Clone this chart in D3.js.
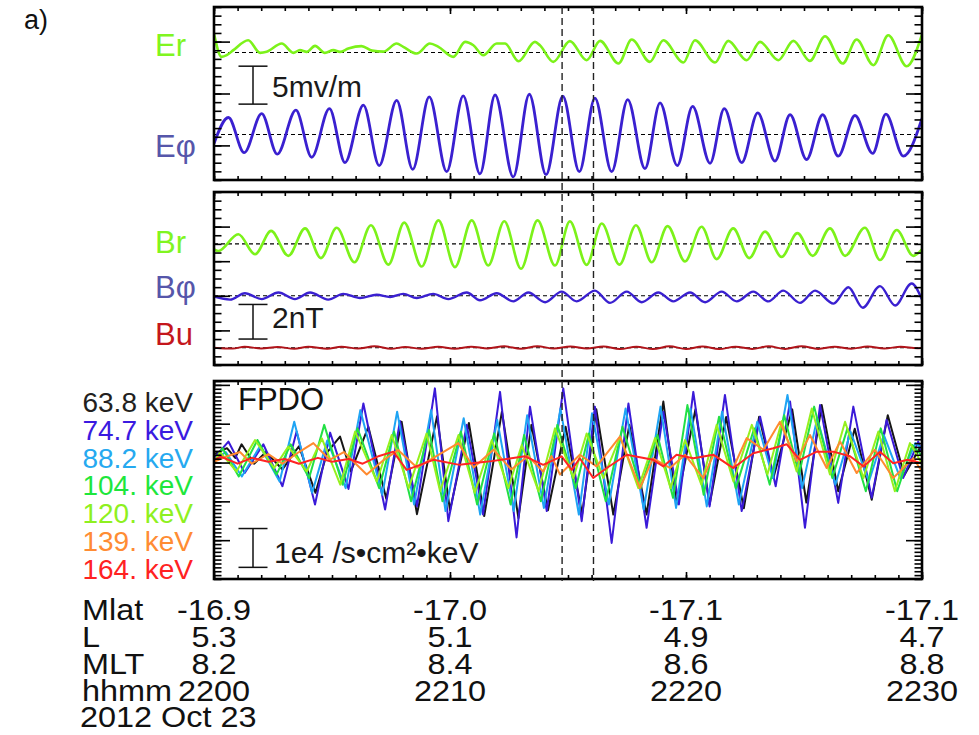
<!DOCTYPE html>
<html>
<head>
<meta charset="utf-8">
<script src="https://cdn.jsdelivr.net/npm/d3@7"></script>
<style>
  body { margin: 0; background: #fff; }
  svg text { font-family: "Liberation Sans", Arial, Helvetica, sans-serif; }
</style>
</head>
<body>
<svg id="chart" width="979" height="735"></svg>
<script>
// ---------- time axis (minutes after 22:00 UT) ----------
const timeDomain = [0, 30];
const timeMajors = [0, 10, 20, 30];
const hhmmLabels = ["2200", "2210", "2220", "2230"];
const mlatLabels = ["-16.9", "-17.0", "-17.1", "-17.1"];
const lLabels = ["5.3", "5.1", "4.9", "4.7"];
const mltLabels = ["8.2", "8.4", "8.6", "8.8"];
const markerTimes = [14.75, 16.08];

// ---------- electric field, mV/m (time, deviation from baseline) ----------
const erBase = 16.8, ephiBase = 6.0;
const erData = [[0,2.5],[0.32,-0.57],[0.54,-0.35],[0.82,0.31],[1.45,1.62],[1.95,-0.04],[2.23,0.09],[2.87,1.18],[3.36,-0.04],[3.64,0.31],[3.93,0.09],[4.28,0.88],[4.7,-0.04],[5.06,0.31],[5.34,0.09],[5.69,0.53],[6.25,0.85],[6.7,0.25],[7.18,0.12],[7.74,1.18],[8.02,0.75],[8.59,-0.13],[9.15,1.18],[9.51,0.75],[10.14,-0.57],[10.64,1.4],[10.99,0.96],[11.41,-0.35],[11.98,1.18],[12.33,1.18],[12.9,-1.14],[13.6,1.4],[13.81,0.96],[14.38,-1.23],[15.08,1.5],[15.79,-1.01],[16.36,1.54],[17.14,-1.45],[17.7,1.71],[18.47,-1.23],[19.04,1.62],[19.89,-1.32],[20.38,1.62],[21.23,-1.32],[21.79,1.54],[22.57,-1.01],[23.14,1.4],[23.91,-1.01],[24.55,1.54],[25.25,-1.1],[25.89,2.15],[26.64,-1.45],[27.23,1.71],[27.94,-1.67],[28.57,2.28],[29.35,-1.8],[30,2.4]];
const ephiData = [[0,-1.18],[0.61,2.24],[1.28,-2.4],[2.02,2.76],[2.68,-2.6],[3.47,3.2],[4.14,-3.0],[4.89,3.4],[5.55,-3.7],[6.33,3.86],[7.0,-4.1],[7.74,4.5],[8.42,-4.6],[9.12,4.96],[9.86,-4.9],[10.56,5.1],[11.27,-5.2],[11.91,5.2],[12.68,-5.6],[13.36,5.3],[14.07,-5.3],[14.78,5.04],[15.48,-4.9],[16.14,4.8],[16.85,-4.9],[17.53,4.6],[18.26,-4.5],[18.9,4.16],[19.63,-4.1],[20.28,3.7],[21.02,-3.8],[21.62,3.4],[22.36,-3.7],[23.04,2.84],[23.77,-3.5],[24.41,2.6],[25.11,-3.3],[25.79,2.6],[26.45,-2.86],[27.16,2.5],[27.91,-2.5],[28.47,2.67],[29.21,-2.86],[30,2.1]];

// ---------- magnetic field, nT ----------
const brBase = 7, bphiBase = 4, buBase = 1;
const brData = [[0,-0.32],[0.18,-0.41],[1.03,0.56],[1.74,-0.6],[2.42,0.75],[3.15,-0.69],[3.86,0.9],[4.53,-0.82],[5.2,0.93],[5.95,-1.06],[6.65,1.08],[7.39,-1.2],[8.06,1.23],[8.8,-1.31],[9.51,1.36],[10.21,-1.34],[10.92,1.36],[11.62,-1.25],[12.3,1.31],[13.01,-1.44],[13.71,1.36],[14.45,-1.25],[15.08,1.3],[15.79,-1.21],[16.43,1.18],[17.18,-1.2],[17.88,1.08],[18.55,-1.06],[19.22,1.03],[19.96,-1.01],[20.66,0.99],[21.3,-0.88],[22.0,0.9],[22.68,-0.82],[23.35,0.71],[24.05,-0.75],[24.72,0.62],[25.37,-0.69],[26.1,0.9],[26.74,-0.69],[27.58,0.93],[28.22,-0.93],[28.93,0.8],[29.63,-0.69],[30,-0.32]];
const bphiData = [[0,-0.04],[0.68,-0.22],[1.31,0.15],[2.02,-0.19],[2.73,0.19],[3.43,-0.19],[4.07,0.19],[4.84,-0.22],[5.48,0.11],[6.19,-0.13],[6.89,0.06],[7.46,-0.07],[8.02,0.11],[8.59,-0.13],[9.29,0.11],[9.93,-0.19],[10.71,0.19],[11.27,-0.26],[11.98,0.15],[12.68,-0.32],[13.32,0.19],[14.03,-0.37],[14.73,0.24],[15.37,-0.32],[16.14,0.3],[16.78,-0.41],[17.49,0.24],[18.12,-0.37],[18.83,0.19],[19.46,-0.32],[20.17,0.19],[20.81,-0.37],[21.51,0.24],[22.15,-0.32],[22.85,0.24],[23.49,-0.32],[24.12,0.3],[24.83,-0.41],[25.47,0.3],[26.25,-0.45],[26.88,0.49],[27.49,-0.69],[28.22,0.56],[28.86,-0.56],[29.56,0.71],[30,-0.22]];
const buData = [[0,0.0],[0.8,-0.05],[1.3,0.06],[2.0,-0.05],[2.7,0.04],[3.4,-0.06],[4.0,0.05],[4.8,-0.06],[5.4,0.06],[6.1,-0.05],[6.8,0.08],[7.5,-0.06],[8.1,0.04],[8.8,-0.06],[9.5,0.05],[10.2,-0.06],[10.9,0.06],[11.6,-0.04],[12.3,0.08],[13.0,-0.06],[13.7,0.09],[14.4,-0.05],[15.1,0.07],[15.8,-0.05],[16.5,0.07],[17.2,-0.08],[17.9,0.06],[18.6,-0.08],[19.3,0.08],[20.0,-0.07],[20.7,0.07],[21.4,-0.08],[22.1,0.06],[22.8,-0.07],[23.5,0.08],[24.2,-0.07],[24.9,0.09],[25.6,-0.07],[26.3,0.06],[27.0,-0.06],[27.7,0.07],[28.4,-0.05],[29.1,0.06],[29.8,-0.03],[30,0.0]];

// ---------- FPDO proton flux, units of 1e4 /s cm2 keV ----------
const fluxBase = 3.07;
const energyLabels = ["63.8 keV", "74.7 keV", "88.2 keV", "104. keV", "120. keV", "139. keV", "164. keV"];
const flux638 = [[0,0.15],[0.55,0.3],[0.9,0.05],[1.17,0.4],[1.7,-0.1],[2.2,0.2],[2.9,-0.25],[3.3,0.1],[3.6,0.35],[4.3,-0.85],[4.8,0.2],[5.34,0.6],[5.8,-0.3],[6.54,0.85],[7.3,-1.0],[7.95,0.98],[8.6,-1.4],[9.45,1.12],[10.0,-1.3],[10.8,0.95],[11.45,-1.45],[12.2,1.24],[12.9,-1.5],[13.45,0.9],[14.15,-1.3],[14.9,0.85],[15.6,-1.4],[16.2,1.3],[16.92,-1.41],[17.6,0.9],[18.33,-1.41],[19.04,1.5],[19.6,-1.15],[20.4,1.3],[21.0,-1.15],[21.7,1.1],[22.45,-1.25],[23.1,1.11],[23.7,-0.47],[24.5,1.3],[25.1,-1.1],[25.75,1.41],[26.45,-0.81],[27.15,0.8],[27.87,-1.03],[28.55,1.15],[29.25,-0.4],[29.9,0.3],[30,0.2]];
const flux747 = [[0,0.04],[0.61,0.47],[1.3,-0.34],[2.09,0.4],[2.9,-0.68],[3.5,0.73],[4.28,-1.15],[4.92,0.7],[5.7,-0.75],[6.33,1.45],[7.25,-1.28],[7.88,1.0],[8.6,-1.2],[9.36,1.84],[9.93,-1.58],[10.71,0.9],[11.4,-1.41],[12.12,1.75],[12.82,-2.0],[13.39,1.37],[14.1,-1.32],[14.8,1.84],[15.58,-1.58],[16.14,1.37],[16.85,-2.14],[17.56,1.45],[18.33,-1.75],[19.04,1.24],[19.7,-1.15],[20.31,1.75],[21.0,-1.2],[21.65,1.67],[22.36,-1.32],[23.14,1.11],[23.8,-0.68],[24.41,1.5],[25.04,-1.75],[25.68,1.41],[26.45,-1.11],[27.09,1.37],[27.87,-0.98],[28.5,1.03],[29.2,-0.47],[29.84,0.47],[30,0.2]];
const flux882 = [[0,0.0],[0.5,0.2],[1.18,-0.43],[1.95,0.35],[2.78,-0.56],[3.4,0.98],[4.16,-0.85],[4.8,0.5],[5.58,-0.73],[6.2,1.28],[7.13,-0.9],[7.76,1.24],[8.48,-1.15],[9.2,1.28],[9.81,-1.32],[10.58,1.07],[11.28,-1.41],[12.0,1.03],[12.7,-1.32],[13.27,1.15],[13.98,-1.24],[14.68,1.32],[15.46,-1.41],[16.02,1.2],[16.73,-1.15],[17.44,1.32],[18.21,-1.28],[18.92,1.37],[19.58,-1.24],[20.19,1.32],[20.88,-1.2],[21.53,1.24],[22.24,-1.15],[23.02,0.98],[23.68,-0.47],[24.3,1.67],[24.92,-0.73],[25.56,1.07],[26.33,-0.64],[26.97,0.73],[27.75,-0.56],[28.38,0.64],[29.08,-0.47],[29.72,0.43],[30,0.3]];
const flux104 = [[0,-0.1],[0.36,0.3],[1.05,-0.43],[1.84,0.51],[2.65,-0.38],[3.25,0.4],[4.03,-0.47],[4.67,0.9],[5.45,-0.64],[6.08,0.81],[7.0,-0.73],[7.63,0.73],[8.35,-1.07],[9.11,0.77],[9.68,-1.07],[10.46,0.73],[11.15,-1.15],[11.87,0.68],[12.57,-1.15],[13.14,0.64],[13.85,-1.07],[14.55,0.9],[15.33,-0.73],[15.89,0.68],[16.6,-1.07],[17.31,0.85],[18.08,-0.73],[18.79,0.64],[19.45,-0.98],[20.06,1.41],[20.75,-0.9],[21.4,1.11],[22.11,-0.73],[22.89,0.81],[23.55,-0.64],[24.16,1.15],[24.79,-0.38],[25.43,1.37],[26.2,-0.47],[26.84,0.81],[27.62,-0.81],[28.25,0.81],[28.95,-0.81],[29.59,0.38],[30,0.1]];
const flux120 = [[0,-0.05],[0.26,0.2],[0.95,-0.3],[1.74,0.51],[2.55,-0.21],[3.15,0.34],[3.93,-0.3],[4.57,0.55],[5.35,-0.64],[5.98,0.73],[6.9,-0.56],[7.53,0.64],[8.25,-0.73],[9.01,0.68],[9.58,-0.81],[10.36,0.64],[11.05,-0.85],[11.77,0.51],[12.47,-0.73],[13.04,0.38],[13.75,-0.81],[14.45,0.81],[15.23,-0.47],[15.79,0.68],[16.5,-0.47],[17.21,0.6],[17.98,-0.73],[18.69,0.56],[19.35,-0.73],[19.96,0.51],[20.65,-0.64],[21.3,0.9],[22.01,-0.56],[22.79,0.9],[23.45,-0.38],[24.06,1.0],[24.69,-0.3],[25.33,1.32],[26.1,-0.38],[26.74,0.98],[27.52,-0.47],[28.15,0.73],[28.85,-0.81],[29.49,0.43],[30,-0.1]];
const flux139 = [[0,-0.05],[0.6,0.1],[1.1,0.2],[1.6,-0.1],[2.3,0.15],[2.9,-0.1],[3.6,0.2],[4.21,0.43],[4.9,0.0],[5.5,0.2],[6.47,-0.38],[7.2,0.0],[7.8,0.25],[8.6,-0.2],[9.3,0.05],[10.35,0.43],[11.0,-0.2],[11.84,0.26],[12.6,-0.25],[13.3,0.1],[13.95,-0.3],[14.3,0.1],[14.66,-0.38],[15.5,0.13],[16.21,-0.17],[17.2,0.6],[18.05,-0.73],[18.6,0.04],[19.32,-0.21],[19.96,0.13],[20.73,-0.47],[21.16,0.13],[22.0,-0.21],[22.57,0.56],[23.28,0.26],[23.98,0.98],[24.69,-0.04],[25.25,0.64],[25.96,-0.21],[26.53,0.47],[27.23,-0.34],[28.0,0.26],[28.78,-0.47],[29.63,0.04],[30,-0.3]];
const flux164 = [[0,0.0],[0.3,0.08],[1.0,-0.1],[1.6,0.05],[2.3,-0.05],[3.0,0.02],[3.6,-0.1],[4.4,0.05],[5.0,-0.05],[5.7,0.02],[6.3,-0.1],[7.0,0.1],[7.6,0.21],[8.16,-0.26],[9.3,0.0],[10.4,-0.13],[11.7,-0.04],[13.18,0.09],[13.95,-0.13],[14.73,0.09],[15.16,-0.26],[15.5,0.04],[16.07,-0.47],[16.64,-0.21],[17.49,0.13],[18.6,0.0],[19.04,-0.17],[19.6,0.13],[20.31,0.04],[21.16,0.13],[22.0,-0.21],[22.85,0.17],[23.7,0.3],[24.27,0.4],[24.83,0.0],[25.54,0.21],[26.24,0.21],[26.95,0.09],[27.52,-0.17],[28.22,0.21],[28.78,-0.09],[29.4,0.0],[30,-0.09]];
const fluxSeries = [flux638, flux747, flux882, flux104, flux120, flux139, flux164];
const fluxColors = ["#161616", "#3a1ad8", "#1ea4f4", "#22e044", "#96f01e", "#ff8a30", "#ff2424"];
const legendColors = ["#231f20", "#3a1ae0", "#26a9f0", "#1ee63c", "#8ef020", "#ff8c33", "#ff2222"];

// ---------- layout ----------
const svg = d3.select("#chart");
const X0 = 214, X1 = 922;
const x = d3.scaleLinear().domain(timeDomain).range([X0, X1]);

const panels = [
  { top: 7, bottom: 180 },
  { top: 192, bottom: 365 },
  { top: 381, bottom: 579 }
];
const y1 = d3.scaleLinear().domain([0, 22.8]).range([panels[0].bottom, panels[0].top]);
const y1ticks = d3.scaleLinear().domain([0, 20]).range([panels[0].bottom, panels[0].top]);
const y2 = d3.scaleLinear().domain([0, 10]).range([panels[1].bottom, panels[1].top]);
const y3 = d3.scaleLinear().domain([0, 5.1]).range([panels[2].bottom, panels[2].top]);

const defs = svg.append("defs");
panels.forEach((p, i) => {
  defs.append("clipPath").attr("id", "clip" + i)
    .append("rect").attr("x", X0).attr("y", p.top).attr("width", X1 - X0).attr("height", p.bottom - p.top);
});

function clean(g) { g.select(".domain").remove(); g.selectAll("text").remove(); }

function drawAxes(p, yScale, minorVals, majorVals) {
  const g = svg.append("g");
  const minorLen = 7.5, majorLen = 16;
  g.append("g").attr("transform", `translate(${X0},0)`)
    .call(d3.axisRight(yScale).tickValues(minorVals).tickSize(minorLen)).call(clean);
  g.append("g").attr("transform", `translate(${X0},0)`)
    .call(d3.axisRight(yScale).tickValues(majorVals).tickSize(majorLen)).call(clean);
  g.append("g").attr("transform", `translate(${X1},0)`)
    .call(d3.axisLeft(yScale).tickValues(minorVals).tickSize(minorLen)).call(clean);
  g.append("g").attr("transform", `translate(${X1},0)`)
    .call(d3.axisLeft(yScale).tickValues(majorVals).tickSize(majorLen)).call(clean);
  const minutes = d3.range(0, 30.001, 1);
  g.append("g").attr("transform", `translate(0,${p.bottom})`)
    .call(d3.axisTop(x).tickValues(minutes).tickSize(4)).call(clean);
  g.append("g").attr("transform", `translate(0,${p.bottom})`)
    .call(d3.axisTop(x).tickValues(timeMajors).tickSize(7)).call(clean);
  g.append("g").attr("transform", `translate(0,${p.top})`)
    .call(d3.axisBottom(x).tickValues(minutes).tickSize(4)).call(clean);
  g.append("g").attr("transform", `translate(0,${p.top})`)
    .call(d3.axisBottom(x).tickValues(timeMajors).tickSize(7)).call(clean);
  g.selectAll(".tick line").attr("stroke", "#000").attr("stroke-width", 1.6);
  g.append("rect").attr("x", X0).attr("y", p.top).attr("width", X1 - X0).attr("height", p.bottom - p.top)
    .attr("fill", "none").attr("stroke", "#000").attr("stroke-width", 2.6);
}

function baseline(yScale, v) {
  svg.append("line").attr("x1", x(timeDomain[0])).attr("x2", x(timeDomain[1]))
    .attr("y1", yScale(v)).attr("y2", yScale(v))
    .attr("stroke", "#000").attr("stroke-width", 1.1).attr("stroke-dasharray", "4,3");
}

function trace(clipId, data, yScale, base, color, width, curve) {
  svg.append("path").datum(data)
    .attr("clip-path", `url(#${clipId})`)
    .attr("fill", "none").attr("stroke", color).attr("stroke-width", width)
    .attr("stroke-linejoin", "round").attr("stroke-linecap", "round")
    .attr("d", d3.line().x(d => x(d[0])).y(d => yScale(base + d[1])).curve(curve));
}

function scaleBar(yScale, lo, hi, label, tx, ty) {
  const cx = 253, hw = 14.5;
  const g = svg.append("g").attr("stroke", "#111").attr("stroke-width", 1.5);
  g.append("line").attr("x1", cx).attr("x2", cx).attr("y1", yScale(lo)).attr("y2", yScale(hi));
  g.append("line").attr("x1", cx - hw).attr("x2", cx + hw).attr("y1", yScale(lo)).attr("y2", yScale(lo));
  g.append("line").attr("x1", cx - hw).attr("x2", cx + hw).attr("y1", yScale(hi)).attr("y2", yScale(hi));
  svg.append("text").attr("x", tx).attr("y", ty).attr("font-size", 30).attr("fill", "#1a1a1a").text(label);
}

// ---------- panel 1: electric field ----------
baseline(y1, erBase);
baseline(y1, ephiBase);
trace("clip0", erData, y1, erBase, "#7cf21a", 2.6, d3.curveMonotoneX);
trace("clip0", ephiData, y1, ephiBase, "#3a20d0", 2.8, d3.curveMonotoneX);
scaleBar(y1, 10, 15, "5mv/m", 272, 97);
drawAxes(panels[0], y1ticks, d3.range(0, 20.001, 1), [4, 10, 16]);

// ---------- panel 2: magnetic field ----------
baseline(y2, brBase);
baseline(y2, bphiBase);
baseline(y2, buBase);
trace("clip1", brData, y2, brBase, "#7cf21a", 2.6, d3.curveMonotoneX);
trace("clip1", bphiData, y2, bphiBase, "#3a20d0", 2.4, d3.curveMonotoneX);
trace("clip1", buData, y2, buBase, "#b0141a", 2.0, d3.curveMonotoneX);
scaleBar(y2, 1.5, 3.5, "2nT", 272, 328);
drawAxes(panels[1], y2, d3.range(0, 10.001, 0.5), [2, 4, 6, 8]);

// ---------- panel 3: FPDO fluxes ----------
fluxSeries.forEach((s, i) => trace("clip2", s, y3, fluxBase, fluxColors[i], 2.0, d3.curveLinear));
scaleBar(y3, 0.3, 1.3, "1e4 /s\u2022cm\u00b2\u2022keV", 274, 563);
svg.append("text").attr("x", 238).attr("y", 410).attr("font-size", 31).attr("fill", "#111").text("FPDO");
drawAxes(panels[2], y3, d3.range(0, 5.101, 0.1), [1, 2, 3, 4, 5]);

// ---------- event markers ----------
markerTimes.forEach(t => {
  svg.append("line").attr("x1", x(t)).attr("x2", x(t))
    .attr("y1", panels[0].top).attr("y2", panels[2].bottom + 2)
    .attr("stroke", "#222").attr("stroke-width", 1.4).attr("stroke-dasharray", "7,4");
});

// ---------- labels ----------
svg.append("text").attr("x", 24).attr("y", 29).attr("font-size", 27).attr("fill", "#111").text("a)");
const traceLabels = [
  { t: "Er", y: 56, c: "#80f520" },
  { t: "E\u03c6", y: 157, c: "#5656aa" },
  { t: "Br", y: 253, c: "#80f520" },
  { t: "B\u03c6", y: 298, c: "#5656aa" },
  { t: "Bu", y: 345, c: "#c4161c" }
];
traceLabels.forEach(d => {
  svg.append("text").attr("x", 155).attr("y", d.y).attr("font-size", 31).attr("fill", d.c).text(d.t);
});
energyLabels.forEach((lab, i) => {
  svg.append("text").attr("x", 193).attr("y", 412 + i * 27.8).attr("text-anchor", "end")
    .attr("font-size", 28).attr("fill", legendColors[i]).text(lab);
});

// ---------- ephemeris block under the time axis ----------
const rowY = [620, 647, 674, 701];
const rowNames = ["Mlat", "L", "MLT", "hhmm"];
const rowValues = [mlatLabels, lLabels, mltLabels, hhmmLabels];
function wideText(px, py, str, anchor) {
  svg.append("text").attr("transform", `translate(${px},${py}) scale(1.08,1)`)
    .attr("text-anchor", anchor).attr("font-size", 30).attr("fill", "#111").text(str);
}
rowNames.forEach((n, r) => {
  wideText(82, rowY[r], n, "start");
  rowValues[r].forEach((v, i) => wideText(x(timeMajors[i]), rowY[r], v, "middle"));
});
wideText(80, 727, "2012 Oct 23", "start");
</script>
</body>
</html>
